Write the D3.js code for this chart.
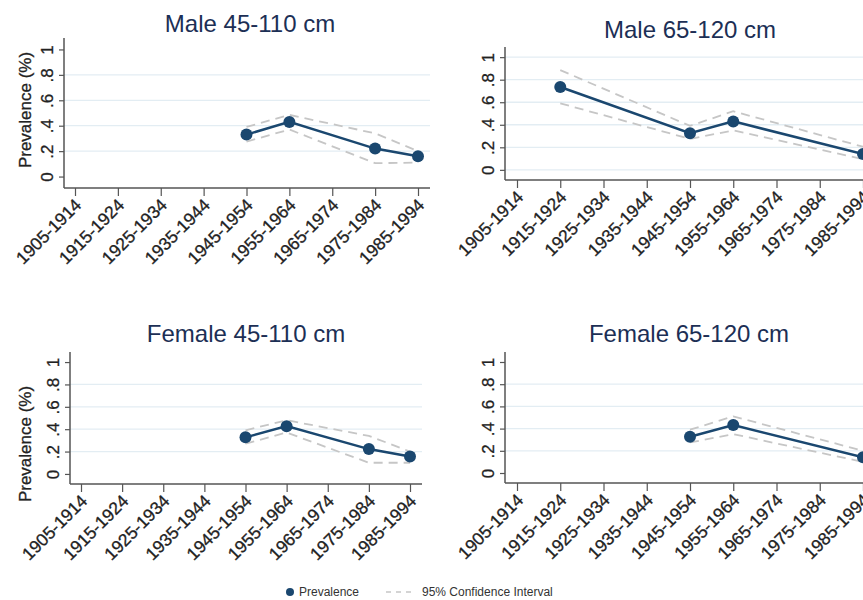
<!DOCTYPE html>
<html>
<head>
<meta charset="utf-8">
<script src="https://cdn.jsdelivr.net/npm/d3@7"></script>
<style>
  body { margin: 0; background: #fff; }
  svg { display: block; font-family: Arial, "Liberation Sans", sans-serif; }
</style>
</head>
<body>
<div id="chart"></div>
<script>
// birth cohorts on the x axis
var cohorts = ["1905-1914", "1915-1924", "1925-1934", "1935-1944", "1945-1954",
               "1955-1964", "1965-1974", "1975-1984", "1985-1994"];
var yTicks = [0, 0.2, 0.4, 0.6, 0.8, 1];
var yTickLabels = ["0", ".2", ".4", ".6", ".8", "1"];

var titles = ["Male 45-110 cm", "Male 65-120 cm", "Female 45-110 cm", "Female 65-120 cm"];

// prevalence + 95% CI, null where the cohort has no estimate
var male45Prev = [null, null, null, null, 0.33, 0.43, null, 0.22, 0.16];
var male45Lo   = [null, null, null, null, 0.275, 0.37, null, 0.105, 0.11];
var male45Hi   = [null, null, null, null, 0.39, 0.485, null, 0.34, 0.2];

var male65Prev = [null, 0.735, null, null, 0.325, 0.43, null, null, 0.14];
var male65Lo   = [null, 0.59, null, null, 0.275, 0.35, null, null, 0.095];
var male65Hi   = [null, 0.885, null, null, 0.39, 0.52, null, null, 0.205];

var female45Prev = [null, null, null, null, 0.327, 0.427, null, 0.222, 0.155];
var female45Lo   = [null, null, null, null, 0.27, 0.37, null, 0.10, 0.10];
var female45Hi   = [null, null, null, null, 0.39, 0.48, null, 0.34, 0.2];

var female65Prev = [null, null, null, null, 0.327, 0.432, null, null, 0.141];
var female65Lo   = [null, null, null, null, 0.275, 0.35, null, null, 0.1];
var female65Hi   = [null, null, null, null, 0.39, 0.51, null, null, 0.2];

var navy = "#1a476f";
var ciColor = "#c6c6c6";
var gridColor = "#e3edf3";
var axisColor = "#555";
var textColor = "#222";

var width = 863, height = 600;
var svg = d3.select("#chart").append("svg").attr("width", width).attr("height", height);

// panel frames (pixel layout of the four graphs)
var panels = [
  {title: titles[0], prev: male45Prev, lo: male45Lo, hi: male45Hi, left: 64, top: 38, bottom: 188, x0: 75, x1: 418, right: 430, tx: 250, ty: 32, ylabY: 110, grid: [0.2, 0.4, 0.6, 0.8]},
  {title: titles[1], prev: male65Prev, lo: male65Lo, hi: male65Hi, left: 505, top: 47, bottom: 180, x0: 517, x1: 863, right: 880, tx: 690, ty: 38, ylabY: null, grid: [0, 0.2, 0.4, 0.6, 0.8, 1]},
  {title: titles[2], prev: female45Prev, lo: female45Lo, hi: female45Hi, left: 70, top: 352, bottom: 484, x0: 81, x1: 410, right: 422, tx: 246, ty: 342, ylabY: 444, grid: [0.2, 0.4, 0.6, 0.8]},
  {title: titles[3], prev: female65Prev, lo: female65Lo, hi: female65Hi, left: 505, top: 352, bottom: 483, x0: 517, x1: 863, right: 880, tx: 689, ty: 342, ylabY: null, grid: [0.2, 0.4, 0.6, 0.8]}
];

var drawPanel = function(p) {
    var g = svg.append("g");
    var x = d3.scalePoint().domain(cohorts).range([p.x0, p.x1]);
    var y = d3.scaleLinear().domain([-0.09, 1.09]).range([p.bottom, p.top]);

    // gridlines
    g.selectAll(".grid").data(p.grid).enter().append("line")
        .attr("x1", p.left).attr("x2", p.right)
        .attr("y1", d => y(d)).attr("y2", d => y(d))
        .attr("stroke", gridColor).attr("stroke-width", 1.3);

    // y axis
    var yAxis = d3.axisLeft(y).tickValues(yTicks).tickSize(5)
        .tickFormat((d, i) => yTickLabels[i]);
    var ya = g.append("g").attr("transform", "translate(" + p.left + ",0)").call(yAxis);
    ya.select(".domain").attr("stroke", axisColor).attr("stroke-width", 1.5)
        .attr("d", "M0," + p.top + "V" + p.bottom);
    ya.selectAll(".tick line").attr("stroke", axisColor).attr("stroke-width", 1.2);
    ya.selectAll(".tick text")
        .attr("x", null).attr("dy", null)
        .attr("transform", "translate(-11,0) rotate(-90)")
        .attr("text-anchor", "middle")
        .attr("font-size", 17).attr("fill", textColor)
        .attr("stroke", textColor).attr("stroke-width", 0.3);

    // x axis
    var xAxis = d3.axisBottom(x).tickSize(8);
    var xa = g.append("g").attr("transform", "translate(0," + p.bottom + ")").call(xAxis);
    xa.select(".domain").attr("stroke", axisColor).attr("stroke-width", 1.5)
        .attr("d", "M" + p.left + ",0H" + p.right);
    xa.selectAll(".tick line").attr("stroke", axisColor).attr("stroke-width", 1.2);
    xa.selectAll(".tick text")
        .attr("y", null).attr("dy", null)
        .attr("transform", "translate(7,18) rotate(-45)")
        .attr("text-anchor", "end")
        .attr("font-size", 17.5).attr("fill", textColor)
        .attr("stroke", textColor).attr("stroke-width", 0.3);

    var pts = cohorts.map((c, i) => ({c: c, v: p.prev[i], lo: p.lo[i], hi: p.hi[i]}))
        .filter(d => d.v !== null);

    var ciLo = d3.line().x(d => x(d.c)).y(d => y(d.lo));
    var ciHi = d3.line().x(d => x(d.c)).y(d => y(d.hi));
    var mid = d3.line().x(d => x(d.c)).y(d => y(d.v));

    [ciLo, ciHi].forEach(function(l) {
        g.append("path").datum(pts).attr("d", l)
            .attr("fill", "none").attr("stroke", ciColor)
            .attr("stroke-width", 1.8).attr("stroke-dasharray", "9,6");
    });

    g.append("path").datum(pts).attr("d", mid)
        .attr("fill", "none").attr("stroke", navy).attr("stroke-width", 2.5);

    g.selectAll(".dot").data(pts).enter().append("circle")
        .attr("cx", d => x(d.c)).attr("cy", d => y(d.v)).attr("r", 6)
        .attr("fill", navy);

    // title
    g.append("text").attr("x", p.tx).attr("y", p.ty)
        .attr("text-anchor", "middle").attr("font-size", 24)
        .attr("fill", "#1c2f55").text(p.title);

    if (p.ylabY !== null) {
        g.append("text")
            .attr("transform", "translate(31," + p.ylabY + ") rotate(-90)")
            .attr("text-anchor", "middle").attr("font-size", 17).attr("fill", textColor)
            .attr("stroke", textColor).attr("stroke-width", 0.3)
            .text("Prevalence (%)");
    }
};

panels.forEach(drawPanel);

// legend
var leg = svg.append("g");
leg.append("circle").attr("cx", 290).attr("cy", 592).attr("r", 4).attr("fill", navy);
leg.append("text").attr("x", 299).attr("y", 596).attr("font-size", 12).attr("fill", "#333").text("Prevalence");
leg.append("line").attr("x1", 386).attr("x2", 414).attr("y1", 592).attr("y2", 592)
    .attr("stroke", "#aaa").attr("stroke-width", 1.2).attr("stroke-dasharray", "5,5");
leg.append("text").attr("x", 422).attr("y", 596).attr("font-size", 12).attr("fill", "#333").text("95% Confidence Interval");
</script>
</body>
</html>
